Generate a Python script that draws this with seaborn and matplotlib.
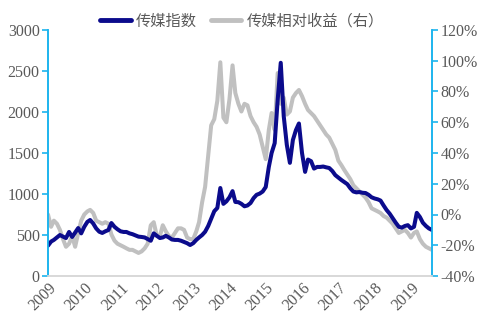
import numpy as np
import pandas as pd
import matplotlib
matplotlib.use("Agg")
import matplotlib.pyplot as plt
from matplotlib.ticker import FuncFormatter
from matplotlib.lines import Line2D
import seaborn as sns

# Monthly media index level (left axis)
media_index = [
    370, 420, 440, 470, 500, 480, 463, 537, 476, 530, 585, 520,
    600, 660, 683, 640, 580, 540, 525, 545, 561, 646, 600, 570,
    545, 537, 537, 520, 510, 495, 480, 476, 470, 450, 430, 520,
    490, 463, 470, 490, 470, 445, 440, 440, 430, 415, 400, 378,
    400, 440, 470, 500, 540, 610, 700, 790, 830, 1073, 880, 910,
    960, 1035, 903, 900, 880, 850, 860, 890, 950, 990, 1005, 1030,
    1085, 1330, 1500, 1620, 2146, 2600, 1950, 1600, 1380, 1658, 1780, 1860,
    1500, 1270, 1420, 1400, 1310, 1330, 1330, 1335, 1325, 1317, 1280, 1230,
    1200, 1170, 1146, 1120, 1070, 1030, 1020, 1024, 1015, 1012, 990, 960,
    945, 935, 920, 860, 805, 760, 707, 650, 600, 590, 610, 620,
    580, 600, 770, 720, 650, 610, 580, 561,
]

# Monthly relative return of the media sector, in % (right axis)
relative_return = [
    0, -8, -4, -6, -10, -16, -21, -19, -14, -21, -12, -4,
    0, 2, 3, 1, -4, -5, -6, -5, -6, -13, -17, -19,
    -20, -21, -22, -23, -23, -24, -25, -24, -22, -19, -7, -5,
    -14, -14, -7, -11, -14, -15, -12, -9, -9, -10, -15, -16,
    -16, -11, -5, 8, 18, 38, 58, 62, 74, 99, 63, 60,
    75, 97, 79, 72, 67, 72, 71, 64, 60, 57, 52, 44,
    36, 55, 66, 55, 92, 72, 76, 65, 67, 76, 79, 81,
    77, 72, 68, 66, 64, 61, 58, 55, 52, 50, 46, 42,
    35, 32, 29, 26, 23, 19, 17, 15, 13, 11, 8, 4,
    3, 2, 1, -1, -2, -4, -6, -9, -12, -11, -10, -12,
    -15, -12, -11, -16, -19, -21, -22, -23,
]

years = [str(y) for y in range(2009, 2020)]

dates = pd.date_range("2009-01-01", periods=len(media_index), freq="MS")
df = pd.DataFrame({
    "date": dates,
    "index": media_index,
    "rel": np.array(relative_return) / 100.0,
})

sns.set_theme(style="white")
plt.rcParams["font.family"] = ["Liberation Serif", "Noto Sans CJK SC", "DejaVu Sans"]

navy = "#0B0B8C"
grey = "#C0C0C0"
cyan = "#1DB4EE"
label_col = "#595959"

fig = plt.figure(figsize=(4.88, 3.25), dpi=100)
ax = fig.add_axes([48 / 488, 49 / 325, 384 / 488, 246 / 325])
ax2 = ax.twinx()

sns.lineplot(data=df, x="date", y="rel", ax=ax2, color=grey, linewidth=2.9)
sns.lineplot(data=df, x="date", y="index", ax=ax, color=navy, linewidth=2.9)

# keep the index line above the relative-return line
ax.set_zorder(ax2.get_zorder() + 1)
ax.patch.set_visible(False)

ax.set_xlim(dates[0], dates[-1])
ax.set_ylim(0, 3000)
ax.set_yticks(np.arange(0, 3001, 500))
ax2.set_ylim(-0.4, 1.2)
ax2.set_yticks(np.arange(-0.4, 1.21, 0.2))
ax2.yaxis.set_major_formatter(FuncFormatter(lambda v, _: f"{v * 100:.0f}%"))

ax.set_xticks([pd.Timestamp(f"{y}-01-01") for y in years])
ax.set_xticklabels(years, rotation=45, ha="right", rotation_mode="anchor")

for a in (ax, ax2):
    a.set_xlabel("")
    a.set_ylabel("")
    a.grid(False)
    a.spines["top"].set_visible(False)
    a.spines["left"].set_color(cyan)
    a.spines["right"].set_color(cyan)
    a.spines["bottom"].set_color("#D9D9D9")
    a.spines["left"].set_linewidth(1.2)
    a.spines["right"].set_linewidth(1.2)

ax.tick_params(axis="y", which="major", direction="out", length=4, color=cyan,
               width=1.2, labelsize=11.5, labelcolor=label_col, pad=2, left=True)
ax2.tick_params(axis="y", which="major", direction="out", length=4, color=cyan,
                width=1.2, labelsize=11.5, labelcolor=label_col, pad=2, right=True)
ax.tick_params(axis="x", length=0, labelsize=11.5, labelcolor=label_col, pad=3)

handles = [
    Line2D([], [], color=navy, linewidth=3.5),
    Line2D([], [], color=grey, linewidth=3.5),
]
leg = fig.legend(handles, ["传媒指数", "传媒相对收益（右）"],
                 loc="center", bbox_to_anchor=(242 / 488, 1 - 21 / 325),
                 ncol=2, frameon=False, handlelength=2.0, columnspacing=0.9,
                 handletextpad=0.35, borderaxespad=0, borderpad=0,
                 prop={"family": ["Noto Sans CJK SC", "DejaVu Sans"], "size": 11})
for t in leg.get_texts():
    t.set_color(label_col)

fig.savefig("out.png", dpi=100)
